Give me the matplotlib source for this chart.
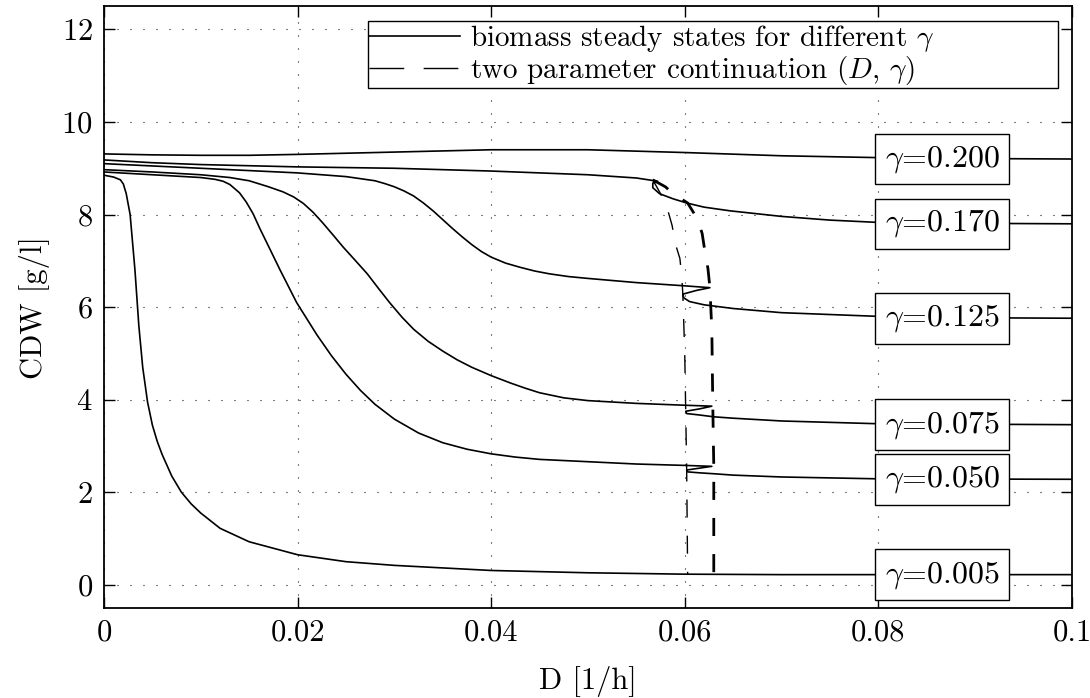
import numpy as np
import matplotlib
matplotlib.use("Agg")
import matplotlib.pyplot as plt

plt.rcParams['font.family'] = 'cmr10'
plt.rcParams['mathtext.fontset'] = 'cm'
plt.rcParams['axes.formatter.use_mathtext'] = True

# steady states, CDW [g/l] over dilution rate D [1/h]
D_200 = [0, 0.005, 0.01, 0.015, 0.02, 0.03, 0.04, 0.05, 0.06, 0.07, 0.08, 0.09, 0.1]
C_200 = [9.31, 9.29, 9.28, 9.28, 9.30, 9.35, 9.40, 9.40, 9.34, 9.27, 9.23, 9.21, 9.20]

D_170 = [0, 0.005, 0.01, 0.02, 0.03, 0.04, 0.05, 0.055, 0.0572,
         0.0567, 0.0567, 0.0574, 0.0588, 0.0602, 0.062, 0.0647, 0.07, 0.075, 0.08, 0.09, 0.1]
C_170 = [9.18, 9.12, 9.08, 9.03, 9.0, 8.94, 8.86, 8.79, 8.72,
         8.68, 8.58, 8.45, 8.34, 8.25, 8.16, 8.08, 7.96, 7.88, 7.83, 7.81, 7.80]

D_125 = [0, 0.005, 0.01, 0.015, 0.02, 0.025, 0.028, 0.029, 0.03, 0.031, 0.032, 0.033, 0.034,
         0.035, 0.036, 0.037, 0.038, 0.039, 0.04, 0.0415, 0.043, 0.0445, 0.046, 0.048,
         0.05, 0.055, 0.06, 0.0626,
         0.0612, 0.0598, 0.0599, 0.0605, 0.062, 0.065, 0.07, 0.08, 0.09, 0.1]
C_125 = [9.10, 9.05, 9.0, 8.95, 8.9, 8.82, 8.73, 8.67, 8.6, 8.51, 8.4, 8.25, 8.08,
         7.89, 7.7, 7.52, 7.35, 7.2, 7.08, 6.95, 6.86, 6.78, 6.72, 6.66,
         6.62, 6.53, 6.46, 6.42,
         6.36, 6.28, 6.2, 6.12, 6.05, 5.97, 5.88, 5.80, 5.77, 5.76]

D_075 = [0, 0.005, 0.01, 0.013, 0.015, 0.017, 0.0185, 0.0196, 0.0206, 0.0216, 0.0226,
         0.0237, 0.0247, 0.026, 0.0272, 0.0283, 0.0295, 0.0308, 0.032, 0.0335, 0.035,
         0.0365, 0.038, 0.04, 0.042, 0.0435, 0.045, 0.0475, 0.05, 0.055, 0.06, 0.0628,
         0.0615, 0.0601, 0.0602, 0.0615, 0.063, 0.065, 0.07, 0.08, 0.1]
C_075 = [8.97, 8.92, 8.86, 8.8, 8.73, 8.6, 8.49, 8.38, 8.24, 8.05, 7.82,
         7.55, 7.3, 7.0, 6.72, 6.42, 6.1, 5.78, 5.52, 5.26, 5.05,
         4.86, 4.7, 4.52, 4.36, 4.25, 4.15, 4.04, 3.98, 3.92, 3.88, 3.86,
         3.80, 3.75, 3.70, 3.67, 3.63, 3.60, 3.54, 3.48, 3.46]

D_050 = [0, 0.005, 0.01, 0.0115, 0.0123, 0.013, 0.014, 0.0147, 0.0154, 0.0161, 0.0168,
         0.0182, 0.0199, 0.022, 0.0235, 0.025, 0.0265, 0.028, 0.03, 0.0325, 0.035,
         0.0375, 0.04, 0.0425, 0.045, 0.05, 0.055, 0.06, 0.0628,
         0.0615, 0.0602, 0.0603, 0.0615, 0.063, 0.065, 0.07, 0.08, 0.1]
C_050 = [8.92, 8.86, 8.8, 8.76, 8.72, 8.65, 8.47, 8.27, 8.02, 7.7, 7.4,
         6.8, 6.1, 5.4, 4.95, 4.55, 4.2, 3.9, 3.58, 3.28, 3.07,
         2.93, 2.83, 2.76, 2.71, 2.66, 2.61, 2.58, 2.56,
         2.52, 2.48, 2.44, 2.42, 2.40, 2.37, 2.33, 2.29, 2.28]

D_005 = [0, 0.001, 0.0017, 0.002, 0.0023, 0.0027, 0.0032, 0.0036, 0.004, 0.0045, 0.005,
         0.0055, 0.006, 0.007, 0.008, 0.009, 0.01, 0.012, 0.015, 0.02, 0.025, 0.03,
         0.04, 0.05, 0.06, 0.07, 0.08, 0.1]
C_005 = [8.85, 8.81, 8.75, 8.66, 8.45, 8.0, 6.8, 5.6, 4.7, 3.95, 3.45,
         3.1, 2.82, 2.35, 2.0, 1.75, 1.55, 1.22, 0.93, 0.65, 0.5, 0.42,
         0.31, 0.26, 0.23, 0.22, 0.22, 0.22]

# two parameter continuation of the limit points
D_lp1 = [0.0567, 0.0575, 0.0582, 0.0587, 0.0590, 0.0595, 0.0597, 0.0598, 0.0600, 0.0601, 0.0602, 0.0603]
C_lp1 = [8.75, 8.45, 8.13, 7.76, 7.39, 7.05, 6.64, 6.29, 5.0, 3.75, 2.48, 0.22]
D_lp2 = [0.0567, 0.0580, 0.0588, 0.0603, 0.0613, 0.0618, 0.0621, 0.0624, 0.0626, 0.0628, 0.0629, 0.0630, 0.0630]
C_lp2 = [8.75, 8.6, 8.45, 8.25, 7.91, 7.59, 7.18, 6.83, 6.42, 5.5, 3.86, 2.56, 0.22]

gammas = ['0.200', '0.170', '0.125', '0.075', '0.050', '0.005']
curves = [(D_200, C_200), (D_170, C_170), (D_125, C_125),
          (D_075, C_075), (D_050, C_050), (D_005, C_005)]

fs = 22

fig = plt.figure(figsize=(10.9, 6.98), dpi=100)
ax = fig.add_axes([0.0954, 0.129, 0.888, 0.862])

for i, (d, c) in enumerate(curves):
    lab = 'biomass steady states for different $\\gamma$' if i == 0 else None
    ax.plot(d, c, 'k-', lw=1.2, label=lab, zorder=3)

ax.plot(D_lp1, C_lp1, color='k', lw=1.0, linestyle=(0, (13, 13)),
        label='two parameter continuation ($D$, $\\gamma$)', zorder=3)
ax.plot(D_lp2, C_lp2, color='k', lw=2.0, linestyle=(0, (6.5, 6.5)), zorder=3)

for g, (d, c) in zip(gammas, curves):
    ax.text(0.0866, c[-1], '$\\gamma$=' + g, ha='center', va='center', fontsize=23, zorder=5,
            bbox=dict(boxstyle='square,pad=0.3', fc='white', ec='k', lw=1))

ax.set_xlim(0, 0.1)
ax.set_ylim(-0.5, 12.5)
ax.set_xticks([0, 0.02, 0.04, 0.06, 0.08, 0.1])
ax.set_xticklabels(['0', '0.02', '0.04', '0.06', '0.08', '0.1'])
ax.set_yticks(range(0, 13, 2))
ax.grid(True, color='k', lw=0.8, linestyle=(0, (0.9, 10.8)))
ax.tick_params(direction='in', top=True, right=True, length=8, width=1, labelsize=fs, pad=8)
for s in ax.spines.values():
    s.set_linewidth(1.3)

ax.set_xlabel('D [1/h]', fontsize=fs, labelpad=14)
ax.set_ylabel('CDW [g/l]', fontsize=fs, labelpad=8)

leg = ax.legend(loc='upper left', bbox_to_anchor=(0.2727, 0.864, 0.7128, 0.111), mode='expand',
                borderaxespad=0, fontsize=21, fancybox=False, framealpha=1, edgecolor='k',
                handlelength=3.1, handletextpad=0.35, borderpad=0.05, labelspacing=0.0)
leg.get_frame().set_linewidth(1)
leg.set_zorder(6)
leg.legend_handles[1].set_linestyle((0, (25, 14)))
leg.legend_handles[1].set_linewidth(1.0)

fig.savefig('out.png', dpi=100)
